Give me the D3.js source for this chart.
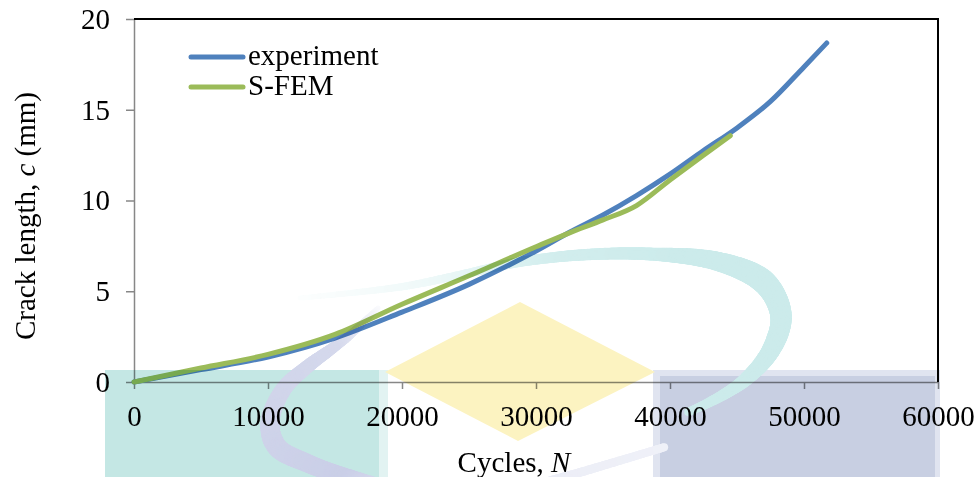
<!DOCTYPE html>
<html>
<head>
<meta charset="utf-8">
<script src="https://cdn.jsdelivr.net/npm/d3@7"></script>
<style>
  html, body { margin: 0; padding: 0; background: #ffffff; }
  svg { display: block; }
  text { font-family: "Liberation Serif", "Times New Roman", serif; fill: #000; }
</style>
</head>
<body>
<script>
// Crack growth data: crack length c (mm) against load cycles N
const seriesNames = ["experiment", "S-FEM"];
const experimentN = [0, 5000, 10000, 15000, 20000, 25000, 30000, 32500, 35000, 37500, 40000, 42500, 45000, 47500, 50000, 51700];
const experimentC = [0, 0.68, 1.38, 2.42, 3.85, 5.38, 7.22, 8.25, 9.2, 10.27, 11.45, 12.75, 14.0, 15.46, 17.36, 18.68];
const sfemN = [0, 5000, 10000, 15000, 20000, 25000, 30000, 32500, 35000, 37500, 40000, 42500, 44500];
const sfemC = [0, 0.77, 1.52, 2.62, 4.28, 5.85, 7.45, 8.22, 8.93, 9.72, 11.13, 12.5, 13.57];
const xTicks = [0, 10000, 20000, 30000, 40000, 50000, 60000];
const yTicks = [0, 5, 10, 15, 20];

const W = 977, H = 477;
const colors = { experiment: "#4f81bd", sfem: "#9bbb59" };

const svg = d3.select("body").append("svg").attr("width", W).attr("height", H);

const x = d3.scaleLinear().domain([0, 60000]).range([134, 938]);
const y = d3.scaleLinear().domain([0, 20]).range([382, 19]);

// Axes
const axisColor = "#878787";
const fontSize = 29;

const yAxis = svg.append("g")
  .attr("transform", `translate(${x(0)},0)`)
  .call(d3.axisLeft(y).tickValues(yTicks).tickFormat(d3.format("d")).tickSize(8).tickSizeOuter(0).tickPadding(16));
const xAxis = svg.append("g")
  .attr("transform", `translate(0,${y(0)})`)
  .call(d3.axisBottom(x).tickValues(xTicks).tickFormat(d3.format("d")).tickSize(7).tickSizeOuter(0).tickPadding(16));

[xAxis, yAxis].forEach(g => {
  g.attr("font-size", null).attr("font-family", null);
  g.select(".domain").attr("stroke", axisColor).attr("stroke-width", 1.5);
  g.selectAll(".tick line").attr("stroke", axisColor).attr("stroke-width", 1.5);
  g.selectAll(".tick text").style("font-size", fontSize + "px").attr("fill", "#000");
});

// Top and right frame
svg.append("line").attr("x1", x(0)).attr("x2", x(60000) + 1).attr("y1", y(20)).attr("y2", y(20))
  .attr("stroke", "#000").attr("stroke-width", 2);
svg.append("line").attr("x1", x(60000)).attr("x2", x(60000)).attr("y1", y(20)).attr("y2", y(0))
  .attr("stroke", "#000").attr("stroke-width", 2);

// Axis titles
const yTitle = svg.append("text")
  .attr("transform", `translate(35,216) rotate(-90)`)
  .attr("text-anchor", "middle")
  .style("font-size", fontSize + "px");
yTitle.append("tspan").text("Crack length, ");
yTitle.append("tspan").attr("font-style", "italic").text("c");
yTitle.append("tspan").text(" (mm)");

const xTitle = svg.append("text")
  .attr("x", 514).attr("y", 472)
  .attr("text-anchor", "middle")
  .attr("fill", "#222")
  .style("font-size", fontSize + "px");
xTitle.append("tspan").text("Cycles, ");
xTitle.append("tspan").attr("font-style", "italic").text("N");

// Curves
const line = d3.line().x(d => x(d[0])).y(d => y(d[1])).curve(d3.curveMonotoneX);
const expData = experimentN.map((n, i) => [n, experimentC[i]]);
const sfemData = sfemN.map((n, i) => [n, sfemC[i]]);

svg.append("path").datum(expData).attr("d", line)
  .attr("fill", "none").attr("stroke", colors.experiment).attr("stroke-width", 5)
  .attr("stroke-linecap", "round").attr("stroke-linejoin", "round");
svg.append("path").datum(sfemData).attr("d", line)
  .attr("fill", "none").attr("stroke", colors.sfem).attr("stroke-width", 5)
  .attr("stroke-linecap", "round").attr("stroke-linejoin", "round");

// Legend
const legend = svg.append("g");
[colors.experiment, colors.sfem].forEach((c, i) => {
  const ly = 57 + i * 30;
  legend.append("line").attr("x1", 191).attr("x2", 243).attr("y1", ly).attr("y2", ly)
    .attr("stroke", c).attr("stroke-width", 5).attr("stroke-linecap", "round");
  legend.append("text").attr("x", 248).attr("y", ly + 8)
    .style("font-size", fontSize + "px").text(seriesNames[i]);
});

// Background emblem, blended over the chart
const emblem = svg.append("g").style("mix-blend-mode", "multiply").attr("pointer-events", "none");

emblem.append("rect").attr("x", 105).attr("y", 370).attr("width", 283).attr("height", 110).attr("fill", "#e2f3f2");
emblem.append("rect").attr("x", 105).attr("y", 370).attr("width", 274).attr("height", 110).attr("fill", "#c4e7e4");
emblem.append("rect").attr("x", 653).attr("y", 370).attr("width", 287).attr("height", 110).attr("fill", "#e0e4f0");
emblem.append("rect").attr("x", 660).attr("y", 376).attr("width", 275).attr("height", 110).attr("fill", "#c8cfe2");
emblem.append("path")
  .attr("d", "M520,302 L655,372 L518,441 L385,372 Z")
  .attr("fill", "#fcf3c1");

// Ribbon drawn as discs along a smooth centre line, width and tint varying along it
function ribbon(pts, widthStops, tintStops, color) {
  const p = svg.append("path").attr("d", d3.line().curve(d3.curveCatmullRom)(pts)).attr("fill", "none");
  const node = p.node();
  const L = node.getTotalLength();
  const wScale = d3.scaleLinear().domain(widthStops.map(d => d[0])).range(widthStops.map(d => d[1])).clamp(true);
  const tScale = d3.scaleLinear().domain(tintStops.map(d => d[0])).range(tintStops.map(d => d[1])).clamp(true);
  const mix = d3.interpolateRgb("#ffffff", color);
  const g = emblem.append("g");
  for (let s = 0; s <= L; s += 1) {
    const f = s / L;
    const q = node.getPointAtLength(s);
    g.append("circle").attr("cx", q.x).attr("cy", q.y).attr("r", wScale(f) / 2).attr("fill", mix(tScale(f)));
  }
  p.remove();
}

ribbon(
  [[300,298],[400,287],[460,275],[520,262],[580,255],[650,254],[720,262],[765,283],[781,316],[771,350],[745,380],[712,401],[688,412]],
  [[0,5],[0.35,10],[0.55,13],[0.72,24],[0.82,20],[0.92,12],[1,8]],
  [[0,0.04],[0.2,0.25],[0.4,0.7],[0.6,0.8],[1,0.8]],
  "#bfe6e6"
);
ribbon(
  [[378,308],[350,335],[330,350],[307,367],[283,390],[270,423],[277,447],[307,463],[340,475],[390,488],[470,500],[560,478],[615,462],[665,447]],
  [[0,5],[0.12,12],[0.3,20],[0.45,17],[0.6,10],[1,8]],
  [[0,0.1],[0.1,0.75],[0.45,0.95],[0.6,0.4],[1,0.28]],
  "#c7cce6"
);
</script>
</body>
</html>
